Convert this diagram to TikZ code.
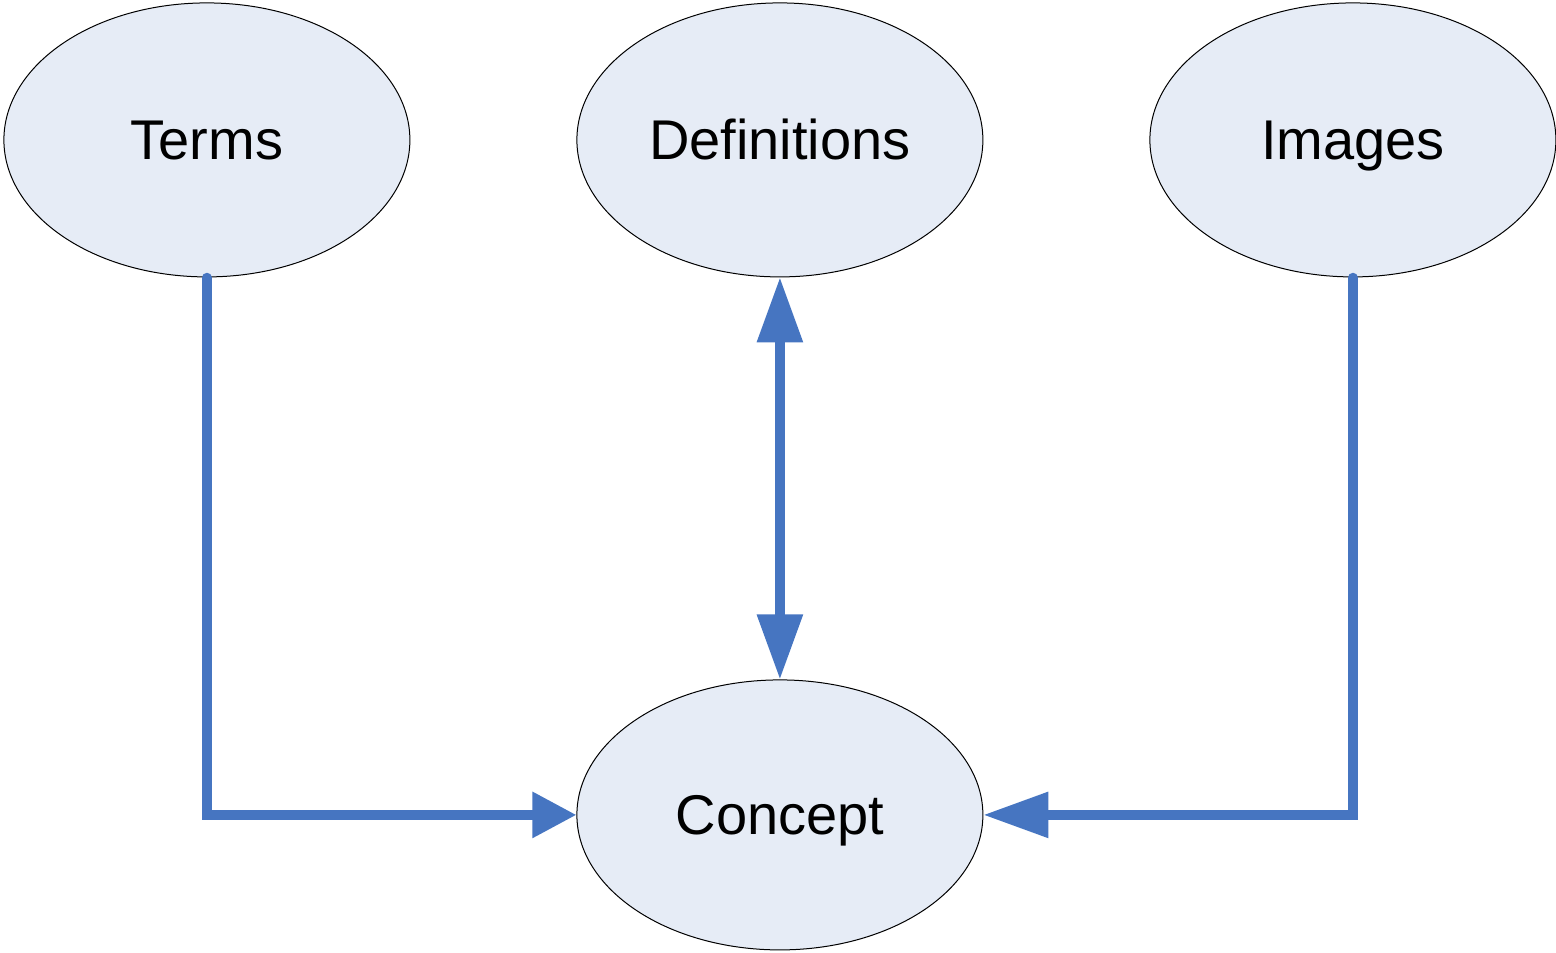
\documentclass[tikz,border=0pt]{standalone}
\usepackage{fontspec}
\setmainfont{Liberation Sans}
\usetikzlibrary{matrix,arrows.meta,shapes.geometric}

\definecolor{linkblue}{RGB}{70,117,193}
\definecolor{bubblefill}{RGB}{230,236,246}

\begin{document}
\begin{tikzpicture}[
  bubble/.style={ellipse, draw=black, line width=0.5pt, fill=bubblefill,
    minimum width=203pt, minimum height=137pt, inner sep=0pt,
    text height=20pt, text depth=0pt,
    font=\fontsize{28}{33}\selectfont},
  link/.style={color=linkblue, line width=4.6pt, line cap=round},
  bigtip/.tip={Triangle[length=32.5pt,width=22pt]},
  shorttip/.tip={Triangle[length=22pt,width=22pt]}
]
  \useasboundingbox (0,0) rectangle (778pt,-476pt);
  \matrix (m) [matrix of nodes, nodes={bubble}, anchor=north west,
    inner sep=0pt, row sep=201pt, column sep=83pt] at (1.5pt,-1pt)
  {
Terms & Definitions & Images \\
      & |[minimum height=135pt]| Concept & \\
};
  \path[link]
  (m-1-1.south) edge [-{shorttip}, to path={|- (\tikztotarget)}] (m-2-2.west)
  (m-1-3.south) edge [-{bigtip}, to path={|- (\tikztotarget)}] (m-2-2.east)
  (m-1-2.south) edge [line cap=butt, {bigtip}-{bigtip}] (m-2-2.north)
;
\end{tikzpicture}
\end{document}
